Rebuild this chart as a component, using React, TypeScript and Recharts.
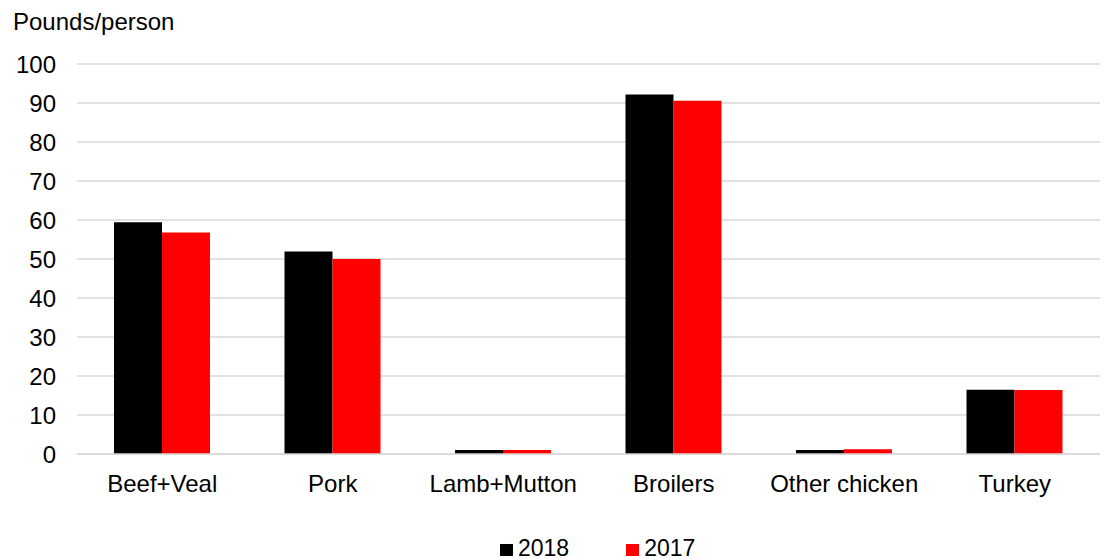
import { BarChart, Bar, XAxis, YAxis, CartesianGrid } from "recharts";

const categories = ["Beef+Veal", "Pork", "Lamb+Mutton", "Broilers", "Other chicken", "Turkey"];
const values2018 = [59.4, 51.9, 1.0, 92.2, 1.0, 16.5];
const values2017 = [56.8, 50.0, 1.0, 90.6, 1.2, 16.4];
const yTicks = [0, 10, 20, 30, 40, 50, 60, 70, 80, 90, 100];
const seriesNames = ["2018", "2017"];
const seriesColors = ["#000000", "#ff0000"];

const data = categories.map((name, i) => ({
  name,
  y2018: values2018[i],
  y2017: values2017[i],
}));

const FONT = "'Liberation Sans', Arial, sans-serif";

function LegendBox() {
  return (
    <div
      style={{
        position: "absolute",
        left: 500,
        top: 536,
        height: 24,
        lineHeight: "24px",
        display: "flex",
        alignItems: "center",
        fontFamily: FONT,
        fontSize: 23,
        color: "#000",
      }}
    >
      {seriesNames.map((n, i) => (
        <div key={n} style={{ display: "flex", alignItems: "center", marginLeft: i ? 57 : 0 }}>
          <span
            style={{
              width: 13,
              height: 12,
              background: seriesColors[i],
              display: "inline-block",
              marginRight: 5,
              marginTop: 3,
            }}
          />
          <span>{n}</span>
        </div>
      ))}
    </div>
  );
}

export default function App() {
  return (
    <div style={{ position: "absolute", left: 0, top: 0, width: 1105, height: 559, background: "#fff" }}>
      <div
        style={{
          position: "absolute",
          left: 13,
          top: 8,
          fontFamily: FONT,
          fontSize: 24,
          color: "#000",
        }}
      >
        Pounds/person
      </div>
      <BarChart
        width={1105}
        height={559}
        data={data}
        margin={{ top: 64, right: 5, left: 0, bottom: 0 }}
        barCategoryGap="21.7%"
        barGap={0}
      >
        <CartesianGrid vertical={false} stroke="#d9d9d9" strokeWidth={1.5} />
        <YAxis
          width={77}
          domain={[0, 100]}
          ticks={yTicks}
          axisLine={false}
          tickLine={false}
          tickSize={0}
          tickMargin={21}
          interval={0}
          tick={{ fill: "#000", fontSize: 24, fontFamily: FONT }}
        />
        <XAxis
          dataKey="name"
          height={105}
          axisLine={{ stroke: "#d9d9d9", strokeWidth: 1.5 }}
          tickLine={false}
          tickSize={0}
          tickMargin={21}
          interval={0}
          tick={{ fill: "#000", fontSize: 24, fontFamily: FONT }}
        />
        <Bar dataKey="y2018" name={seriesNames[0]} fill={seriesColors[0]} isAnimationActive={false} />
        <Bar dataKey="y2017" name={seriesNames[1]} fill={seriesColors[1]} isAnimationActive={false} />
      </BarChart>
      <LegendBox />
    </div>
  );
}
